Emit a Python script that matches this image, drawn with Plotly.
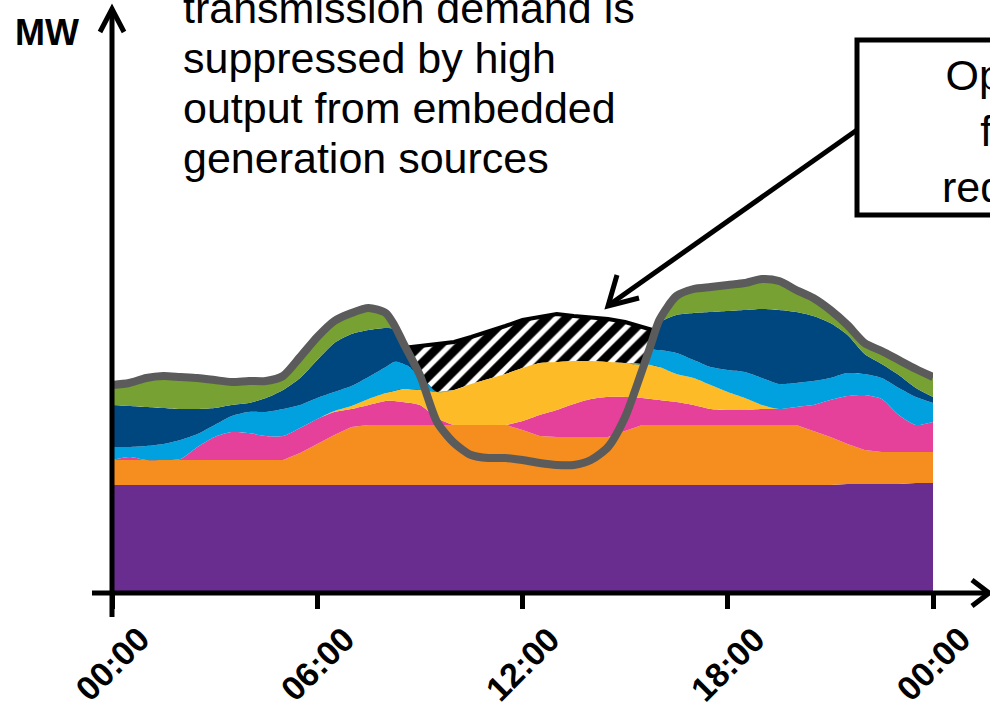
import plotly.graph_objects as go

# Half-hourly profile across one summer day (values are cumulative MW levels, arbitrary scale)
hours = [0, 0.5, 1, 1.5, 2, 2.5, 3, 3.5, 4, 4.5, 5, 5.5, 6, 6.5, 7, 7.5, 8, 8.25,
         8.5, 9, 9.5, 10, 10.5, 11, 11.5, 12, 12.5, 13, 13.5, 14, 14.5, 15, 15.5, 15.75,
         16, 16.5, 17, 17.5, 18, 18.5, 19, 19.5, 20, 20.5, 21, 21.5, 22, 22.5, 23, 23.5, 24]

# Top of each stacked band (cumulative)
purple_top = [108, 108, 108, 108, 108, 108, 108, 108, 108, 108, 108, 108, 108, 108, 108, 108, 108, 108,
              108, 108, 108, 108, 108, 108, 108, 108, 108, 108, 108, 108, 108, 108, 108, 108,
              108, 108, 108, 108, 108, 108, 108, 108, 108, 108, 108, 109, 109, 109, 109, 110, 110]
orange_top = [133, 133, 133, 133, 133, 133, 133, 133, 133, 133, 133, 140, 149, 158, 166, 168, 168, 168,
              168, 168, 168, 168, 168, 168, 168, 163, 157, 156, 156, 156, 156, 162, 168, 168,
              168, 168, 168, 168, 168, 168, 168, 168, 168, 162, 156, 149, 143, 141, 141, 141, 141]
pink_top = [133, 136, 133, 133, 134, 146, 156, 161, 160, 157, 157, 165, 174, 181, 184, 188, 192, 192,
            191, 188, 175, 168, 168, 168, 168, 172, 178, 183, 189, 194, 196, 196, 195, 194,
            193, 191, 188, 184, 183, 183, 184, 184, 186, 188, 193, 197, 198, 194, 178, 168, 171]
yellow_top = [133, 136, 133, 133, 134, 146, 156, 161, 160, 157, 157, 165, 174, 182, 187, 194, 200, 202,
              204, 203, 201, 203, 209, 214, 219, 225, 230, 231, 232, 232, 231, 230, 229, 228,
              226, 219, 215, 208, 201, 195, 188, 184, 186, 188, 193, 197, 198, 194, 178, 168, 171]
sky_top = [146, 146, 147, 149, 153, 159, 168, 177, 181, 181, 184, 188, 195, 201, 207, 216, 226, 231,
           230, 218, 201, 203, 209, 214, 219, 225, 230, 231, 232, 232, 231, 230, 229, 244,
           243, 240, 233, 226, 223, 221, 215, 209, 210, 212, 215, 220, 219, 215, 205, 196, 190]
navy_top = [188, 187, 186, 185, 184, 184, 185, 188, 190, 195, 203, 215, 233, 250, 259, 263, 265, 264,
            251, 218, 201, 203, 209, 214, 219, 225, 230, 231, 232, 232, 231, 230, 229, 248,
            270, 278, 280, 281, 282, 283, 284, 283, 281, 277, 270, 258, 239, 229, 218, 205, 196]
green_top = [208, 210, 215, 217, 216, 215, 213, 211, 212, 212, 217, 236, 256, 272, 280, 285, 280, 268,
             251, 218, 201, 203, 209, 214, 219, 225, 230, 231, 232, 232, 231, 230, 229, 248,
             273, 297, 304, 306, 308, 310, 314, 312, 303, 295, 283, 268, 250, 242, 233, 224, 216]

# Demand seen on the transmission network
transmission = [208, 210, 215, 217, 216, 215, 213, 211, 212, 212, 217, 236, 256, 272, 280, 285, 280, 268,
                251, 218, 171, 150, 138, 135, 135, 133, 130, 128, 128, 133, 146, 176, 223, 248,
                273, 297, 304, 306, 308, 310, 314, 312, 303, 295, 283, 268, 250, 242, 233, 224, 216]

# Underlying demand including embedded generation (08:00 - 16:00)
demand_hours = [8, 8.25, 8.5, 9, 9.5, 10, 10.5, 11, 11.5, 12, 12.5, 13, 13.5, 14, 14.5, 15, 15.5, 15.75, 16]
underlying = [243, 244, 245, 246, 249, 251, 256, 261, 267, 273, 276, 279, 277, 276, 274, 271, 266, 264, 261]

tick_hours = [0, 6, 12, 18, 24]
tick_text = ["00:00", "06:00", "12:00", "18:00", "00:00"]

colors = {
    "purple": "#692d90",
    "orange": "#f58e1f",
    "pink": "#e5419a",
    "yellow": "#fdbb27",
    "sky": "#00a1de",
    "navy": "#00477f",
    "green": "#77a132",
}

W, H = 990, 703
ML, MR, MB, MT = 112, 57, 110, 0
FONT = "Liberation Sans"


def fx(p):
    return (p - ML) / (W - ML - MR)


def fy(p):
    return (H - MB - p) / (H - MB - MT)


fig = go.Figure()

# Hatched embedded-generation wedge between the yellow band and underlying demand
start = hours.index(demand_hours[0])
lower = yellow_top[start:start + len(demand_hours)]
fig.add_trace(go.Scatter(
    x=demand_hours + demand_hours[::-1],
    y=underlying + lower[::-1],
    fill="toself", mode="lines", line=dict(width=0),
    fillcolor="white",
    fillpattern=dict(shape="/", size=14, solidity=0.62, fgcolor="black", fgopacity=1, bgcolor="white"),
    hoverinfo="skip", showlegend=False,
))
fig.add_trace(go.Scatter(
    x=demand_hours, y=underlying, mode="lines",
    line=dict(color="black", width=4), showlegend=False,
))

bands = [
    ("purple", purple_top, "linear"),
    ("orange", orange_top, "linear"),
    ("pink", pink_top, "spline"),
    ("yellow", yellow_top, "spline"),
    ("sky", sky_top, "spline"),
    ("navy", navy_top, "spline"),
    ("green", green_top, "spline"),
]
for i, (name, top, shape) in enumerate(bands):
    fig.add_trace(go.Scatter(
        x=hours, y=top, name=name, mode="lines",
        line=dict(width=0, shape=shape, smoothing=0.7),
        fill="tozeroy" if i == 0 else "tonexty",
        fillcolor=colors[name], showlegend=False,
    ))

fig.add_trace(go.Scatter(
    x=hours, y=transmission, mode="lines",
    line=dict(color="#5b5b5b", width=8, shape="spline", smoothing=0.7),
    showlegend=False,
))


def path(points):
    return "M " + " L ".join(f"{fx(a):.5f},{fy(b):.5f}" for a, b in points)


line_style = dict(color="black", width=5)
shapes = [
    # y axis with arrow head
    dict(type="line", xref="paper", yref="paper", x0=fx(112), y0=fy(10), x1=fx(112), y1=fy(617), line=line_style),
    dict(type="path", xref="paper", yref="paper", path=path([(100, 32), (112, 9), (124, 32)]), line=line_style),
    # x axis with arrow head
    dict(type="line", xref="paper", yref="paper", x0=fx(92), y0=fy(593), x1=fx(987), y1=fy(593), line=line_style),
    dict(type="path", xref="paper", yref="paper", path=path([(972, 580), (989, 593), (972, 606)]), line=line_style),
    # callout box and pointer
    dict(type="rect", xref="paper", yref="paper", x0=fx(857), x1=fx(1260), y0=fy(215), y1=fy(40),
         line=line_style, fillcolor="white"),
    dict(type="line", xref="paper", yref="paper", x0=fx(857), y0=fy(130), x1=fx(609), y1=fy(305), line=line_style),
    dict(type="path", xref="paper", yref="paper", path=path([(639, 298), (608, 306), (617, 275)]), line=line_style),
]

annotations = [
    dict(text="<b>MW</b>", xref="paper", yref="paper", x=fx(13), y=fy(32), xanchor="left", yanchor="middle",
         showarrow=False, font=dict(family=FONT, size=36, color="black")),
]
note_lines = ["transmission demand is", "suppressed by high", "output from embedded", "generation sources"]
for k, txt in enumerate(note_lines):
    annotations.append(dict(
        text=txt, xref="paper", yref="paper", x=fx(181), y=fy(8 + 50 * k),
        xanchor="left", yanchor="middle", showarrow=False,
        font=dict(family=FONT, size=43, color="black"),
    ))
annotations.append(dict(
    text="Opportunity<br>for DSR<br>requirement", xref="paper", yref="paper",
    x=fx(1056), y=fy(131), xanchor="center", yanchor="middle", align="center", showarrow=False,
    font=dict(family=FONT, size=43, color="black"),
))
for h, lab in zip(tick_hours, tick_text):
    annotations.append(dict(
        text=f"<b>{lab}</b>", xref="x", yref="paper", x=h, y=fy(664),
        xanchor="center", yanchor="middle", textangle=-45, showarrow=False,
        font=dict(family=FONT, size=34, color="black"),
    ))

fig.update_layout(
    width=W, height=H,
    margin=dict(l=ML, r=MR, b=MB, t=MT, pad=0),
    paper_bgcolor="white", plot_bgcolor="white",
    shapes=shapes, annotations=annotations,
    showlegend=False,
    xaxis=dict(range=[0, 24], showgrid=False, zeroline=False, showline=False,
               tickvals=tick_hours, ticks="outside", ticklen=15, tickwidth=5, tickcolor="black",
               showticklabels=False, fixedrange=True),
    yaxis=dict(range=[0, H - MB - MT], showgrid=False, zeroline=False, showline=False,
               showticklabels=False, ticks="", fixedrange=True),
)

fig.write_html("out.html")
